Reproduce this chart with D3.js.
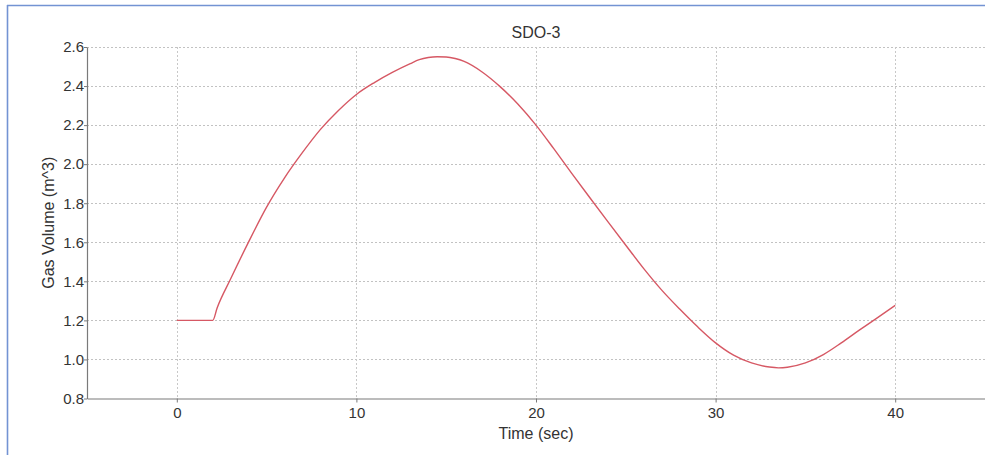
<!DOCTYPE html>
<html>
<head>
<meta charset="utf-8">
<script src="https://cdn.jsdelivr.net/npm/d3@7"></script>
<style>
  html, body { margin: 0; padding: 0; background: #fff; }
  svg { display: block; font-family: "Liberation Sans", Arial, sans-serif; }
</style>
</head>
<body>
<svg id="chart" width="985" height="455"></svg>
<script>
const chartTitle = "SDO-3";
const xLabel = "Time (sec)";
const yLabel = "Gas Volume (m^3)";
const timeSec = [0, 2, 2.25, 3, 4, 5, 6, 7, 8, 9, 10, 11, 12, 13, 13.5, 14, 14.5, 15, 15.5, 16, 17, 18, 19, 20, 21, 22, 23, 24, 25, 26, 27, 28, 29, 30, 31, 32, 33, 33.5, 34, 35, 36, 37, 38, 39, 40];
const gasVolume = [1.2, 1.2, 1.265, 1.413, 1.602, 1.78, 1.93, 2.06, 2.178, 2.275, 2.357, 2.418, 2.47, 2.515, 2.535, 2.546, 2.55, 2.549, 2.541, 2.526, 2.472, 2.397, 2.307, 2.2, 2.078, 1.952, 1.828, 1.706, 1.585, 1.465, 1.355, 1.258, 1.167, 1.085, 1.022, 0.982, 0.961, 0.957, 0.96, 0.982, 1.025, 1.085, 1.15, 1.213, 1.277];
const xTicks = [0, 10, 20, 30, 40];
const yTicks = [0.8, 1.0, 1.2, 1.4, 1.6, 1.8, 2.0, 2.2, 2.4, 2.6];

(function () {
const svg = d3.select("#chart");
const W = 985, H = 455;
const pLeft = 87, pRight = 985, pTop = 47, pBottom = 398.5;

// outer frame (top and left edges visible)
svg.append("line").attr("x1", 7).attr("x2", W).attr("y1", 5.5).attr("y2", 5.5)
  .attr("stroke", "#7393d3").attr("stroke-width", 1.6);
svg.append("line").attr("x1", 7.5).attr("x2", 7.5).attr("y1", 5).attr("y2", H)
  .attr("stroke", "#7393d3").attr("stroke-width", 1.6);

const x = d3.scaleLinear().domain([-5, 45]).range([pLeft, pRight]);
const y = d3.scaleLinear().domain([0.8, 2.6]).range([pBottom, pTop]);

// grid
const grid = svg.append("g");
grid.selectAll("line.h").data(yTicks.filter(d => d > 0.8)).join("line")
  .attr("x1", pLeft).attr("x2", pRight)
  .attr("y1", d => Math.round(y(d)) + 0.5).attr("y2", d => Math.round(y(d)) + 0.5)
  .attr("stroke", "#c2c2c2").attr("stroke-dasharray", "2,2").attr("stroke-width", 1);
grid.selectAll("line.v").data(xTicks).join("line")
  .attr("y1", pTop).attr("y2", pBottom)
  .attr("x1", d => Math.round(x(d)) + 0.5).attr("x2", d => Math.round(x(d)) + 0.5)
  .attr("stroke", "#c8c8c8").attr("stroke-dasharray", "2,2").attr("stroke-width", 1);

// axes
const xAxis = svg.append("g").attr("transform", `translate(0,${pBottom})`)
  .call(d3.axisBottom(x).tickValues(xTicks).tickFormat(d3.format("d")).tickSize(4).tickSizeOuter(0));
const yAxis = svg.append("g").attr("transform", `translate(${pLeft},0)`)
  .call(d3.axisLeft(y).tickValues(yTicks).tickFormat(d3.format(".1f")).tickSize(3).tickSizeOuter(0));
[xAxis, yAxis].forEach(a => {
  a.select(".domain").attr("stroke", "#7a7a7a").attr("stroke-width", 1.2);
  a.selectAll(".tick line").attr("stroke", "#7a7a7a");
  a.selectAll(".tick text").attr("fill", "#333").style("font-size", "15px")
    .style("font-family", "'Liberation Sans', Arial, sans-serif");
});
xAxis.selectAll(".tick text").attr("dy", "0.95em").attr("y", 5);
yAxis.selectAll(".tick text").attr("x", -3);

// line
const line = d3.line().x((d, i) => x(timeSec[i])).y(d => y(d)).curve(d3.curveMonotoneX);
svg.append("path").datum(gasVolume).attr("d", line)
  .attr("fill", "none").attr("stroke", "#d65864").attr("stroke-width", 1.4);

// title and labels
svg.append("text").attr("x", (pLeft + pRight) / 2).attr("y", 38).attr("text-anchor", "middle")
  .attr("fill", "#333").style("font-size", "16px").text(chartTitle);
svg.append("text").attr("x", (pLeft + pRight) / 2).attr("y", 439).attr("text-anchor", "middle")
  .attr("fill", "#333").style("font-size", "16px").text(xLabel);
svg.append("text").attr("transform", `translate(54,${(pTop + pBottom) / 2}) rotate(-90)`)
  .attr("text-anchor", "middle").attr("fill", "#333").style("font-size", "16px").text(yLabel);
})();
</script>
</body>
</html>
